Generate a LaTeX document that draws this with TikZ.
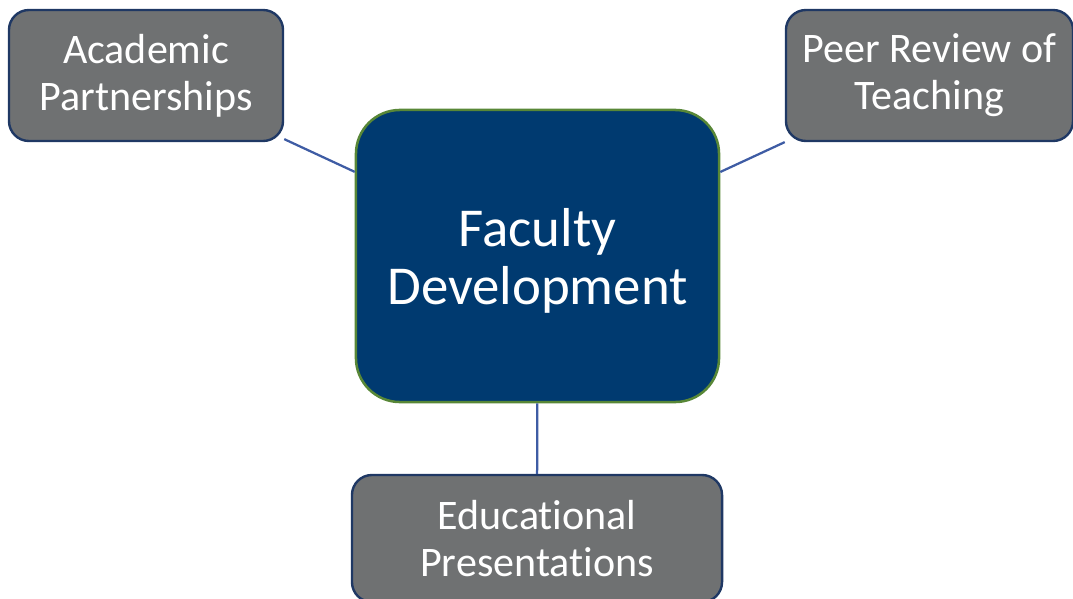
\documentclass[tikz,border=0pt]{standalone}
\usepackage{fontspec}
\setmainfont{Carlito}[Ligatures=NoCommon]
\definecolor{facblue}{RGB}{0,58,112}
\definecolor{facgreen}{RGB}{88,135,55}
\definecolor{topicgray}{RGB}{111,113,114}
\definecolor{topicnavy}{RGB}{31,56,100}
\definecolor{linkblue}{RGB}{62,92,164}
\tikzset{
  hub/.style={draw=facgreen, fill=facblue, line width=1.8pt, rounded corners=1.1cm,
    minimum width=9.075cm, minimum height=7.3cm, inner sep=0pt, text=white, align=center,
    font=\fontsize{39}{41.3}\selectfont},
  topic/.style={draw=topicnavy, fill=topicgray, line width=1.7pt, rounded corners=0.5cm,
    minimum height=3.275cm, inner sep=0pt, text=white, align=center,
    font=\fontsize{29.9}{33.4}\selectfont},
  link/.style={draw=linkblue, line width=1.6pt}
}
\begin{document}
\begin{tikzpicture}[x=0.025cm, y=-0.025cm]
      \useasboundingbox (0,0) rectangle (1073,599);
      \draw
        (537.5,256) node[hub, text depth=0pt] (fd){Faculty\\Development}
        (146,75.5) node[topic, minimum width=6.85cm] (ap){Academic\\Partnerships}
        (929.5,75.5) node[topic, minimum width=7.175cm] (pr){Peer Review of\\Teaching}
        (537,538.5) node[topic, minimum width=9.25cm, minimum height=3.175cm] (ep){Educational\\Presentations};
      \begin{scope}[link]
        \draw (fd) to (ap);
        \draw (fd) to (pr);
        \draw (fd) to (ep);
      \end{scope}
    \end{tikzpicture}
\end{document}
